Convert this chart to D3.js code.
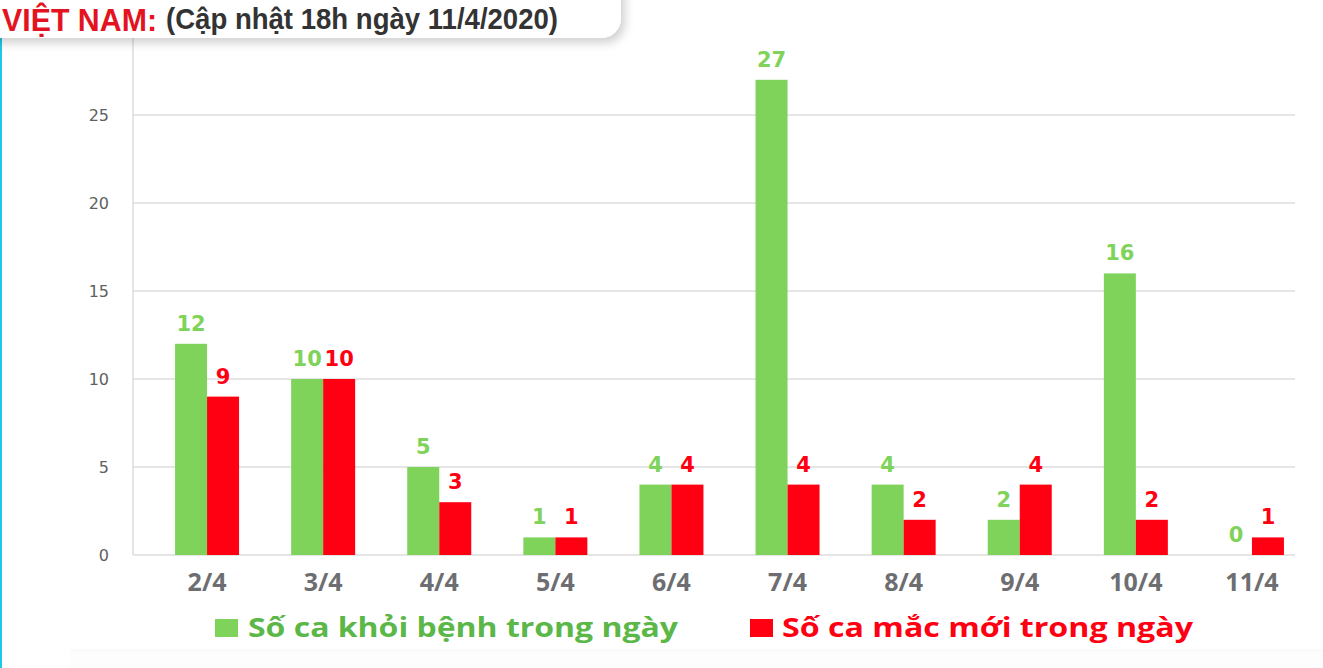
<!DOCTYPE html>
<html>
<head>
<meta charset="utf-8">
<script src="https://cdn.jsdelivr.net/npm/d3@7"></script>
<style>
  html, body { margin: 0; padding: 0; background: #fff; }
  svg { display: block; }
</style>
</head>
<body>
<script>
// chart values
var days = ["2/4", "3/4", "4/4", "5/4", "6/4", "7/4", "8/4", "9/4", "10/4", "11/4"];
var recovered = [12, 10, 5, 1, 4, 27, 4, 2, 16, 0];
var newCases = [9, 10, 3, 1, 4, 4, 2, 4, 2, 1];
var yTicks = [0, 5, 10, 15, 20, 25];
var seriesNames = ["Số ca khỏi bệnh trong ngày", "Số ca mắc mới trong ngày"];

var green = "#7fd35b", red = "#ff0013";

var svg = d3.select("body").append("svg")
    .attr("width", 1323)
    .attr("height", 668);

// drop shadow for the title box
var defs = svg.append("defs");
var f = defs.append("filter").attr("id", "shadow")
    .attr("x", "-10%").attr("y", "-50%").attr("width", "130%").attr("height", "250%");
f.append("feDropShadow").attr("dx", 4).attr("dy", 5).attr("stdDeviation", 5)
    .attr("flood-color", "#000").attr("flood-opacity", 0.18);

// faint lower band + left cyan edge
svg.append("rect").attr("x", 70).attr("y", 650).attr("width", 1253).attr("height", 18)
    .style("fill", "#fdfdfd");
svg.append("line").attr("x1", 70).attr("x2", 1323).attr("y1", 650).attr("y2", 650)
    .style("stroke", "#f5f5f5");
svg.append("rect").attr("x", 0).attr("y", 0).attr("width", 2).attr("height", 668)
    .style("fill", "#1dc9e6");

var y = d3.scaleLinear()
    .domain([0, 25])
    .range([555, 115]);

var x0 = d3.scaleBand()
    .domain(days)
    .range([149, 1310]);

var x1 = d3.scaleBand()
    .domain(["rec", "new"])
    .range([0, 64]);

// gridlines
svg.append("g").selectAll("line")
    .data(yTicks)
    .enter()
    .append("line")
    .attr("x1", 133).attr("x2", 1295)
    .attr("y1", function(d){ return y(d); })
    .attr("y2", function(d){ return y(d); })
    .style("stroke", "#dcdcdc")
    .style("stroke-width", 1.5);

// vertical axis line
svg.append("line")
    .attr("x1", 133).attr("x2", 133)
    .attr("y1", y(0)).attr("y2", 30)
    .style("stroke", "#dcdcdc")
    .style("stroke-width", 1.5);

// y tick labels
var yAxis = d3.axisLeft(y).tickValues(yTicks).tickSize(0).tickPadding(24);
var yg = svg.append("g")
    .attr("transform", "translate(133,0)")
    .call(yAxis);
yg.select(".domain").remove();
yg.selectAll("text")
    .style("font-family", "DejaVu Sans, sans-serif")
    .style("font-size", "16px")
    .style("fill", "#5f5f5f");

// x tick labels
var xAxis = d3.axisBottom(x0).tickSize(0).tickPadding(0);
var xg = svg.append("g")
    .attr("transform", "translate(0,591)")
    .call(xAxis);
xg.select(".domain").remove();
xg.selectAll("text")
    .attr("dy", 0).attr("y", 0)
    .style("font-family", "'Open Sans', sans-serif")
    .style("font-weight", "bold")
    .style("font-size", "25px")
    .style("fill", "#6d6e71");

// bars
var groups = svg.selectAll(".day")
    .data(days)
    .enter()
    .append("g")
    .attr("class", "day")
    .attr("transform", function(d){
        return "translate(" + (x0(d) + x0.bandwidth() / 2 - 32) + ",0)";
    });

groups.append("rect")
    .attr("x", x1("rec"))
    .attr("width", x1.bandwidth())
    .attr("y", function(d, i){ return y(recovered[i]); })
    .attr("height", function(d, i){ return y(0) - y(recovered[i]); })
    .style("fill", green);

groups.append("rect")
    .attr("x", x1("new"))
    .attr("width", x1.bandwidth())
    .attr("y", function(d, i){ return y(newCases[i]); })
    .attr("height", function(d, i){ return y(0) - y(newCases[i]); })
    .style("fill", red);

// value labels
groups.append("text")
    .attr("x", x1("rec") + x1.bandwidth() / 2)
    .attr("y", function(d, i){ return y(recovered[i]) - 13; })
    .attr("text-anchor", "middle")
    .style("font-family", "DejaVu Sans, sans-serif")
    .style("font-weight", "bold")
    .style("font-size", "21px")
    .style("fill", green)
    .text(function(d, i){ return recovered[i]; });

groups.append("text")
    .attr("x", x1("new") + x1.bandwidth() / 2)
    .attr("y", function(d, i){ return y(newCases[i]) - 13; })
    .attr("text-anchor", "middle")
    .style("font-family", "DejaVu Sans, sans-serif")
    .style("font-weight", "bold")
    .style("font-size", "21px")
    .style("fill", red)
    .text(function(d, i){ return newCases[i]; });

// legend
var legend = [
    { name: seriesNames[0], box: 215, text: 248, end: 678, fill: green, color: "#5cb749" },
    { name: seriesNames[1], box: 750, text: 782, end: 1193, fill: red, color: red }
];
legend.forEach(function(l){
    svg.append("rect")
        .attr("x", l.box).attr("y", 619)
        .attr("width", 23).attr("height", 18)
        .style("fill", l.fill);
    svg.append("text")
        .attr("x", l.text).attr("y", 637)
        .attr("textLength", l.end - l.text)
        .attr("lengthAdjust", "spacingAndGlyphs")
        .style("font-family", "'Open Sans', sans-serif")
        .style("font-weight", "bold")
        .style("font-size", "26px")
        .style("fill", l.color)
        .text(l.name);
});

// title box
svg.append("rect")
    .attr("x", -30).attr("y", -30)
    .attr("width", 651).attr("height", 68)
    .attr("rx", 20)
    .style("fill", "#fff")
    .attr("filter", "url(#shadow)");

svg.append("text")
    .attr("x", 2).attr("y", 31)
    .attr("textLength", 155)
    .attr("lengthAdjust", "spacingAndGlyphs")
    .style("font-family", "'Liberation Sans Narrow', 'Liberation Sans', sans-serif")
    .style("font-weight", "bold")
    .style("font-size", "32px")
    .style("fill", "#e3141f")
    .text("VIỆT NAM:");

svg.append("text")
    .attr("x", 166).attr("y", 29)
    .attr("textLength", 392)
    .attr("lengthAdjust", "spacingAndGlyphs")
    .style("font-family", "'Liberation Sans Narrow', 'Liberation Sans', sans-serif")
    .style("font-weight", "bold")
    .style("font-size", "30px")
    .style("fill", "#333333")
    .text("(Cập nhật 18h ngày 11/4/2020)");
</script>
</body>
</html>
